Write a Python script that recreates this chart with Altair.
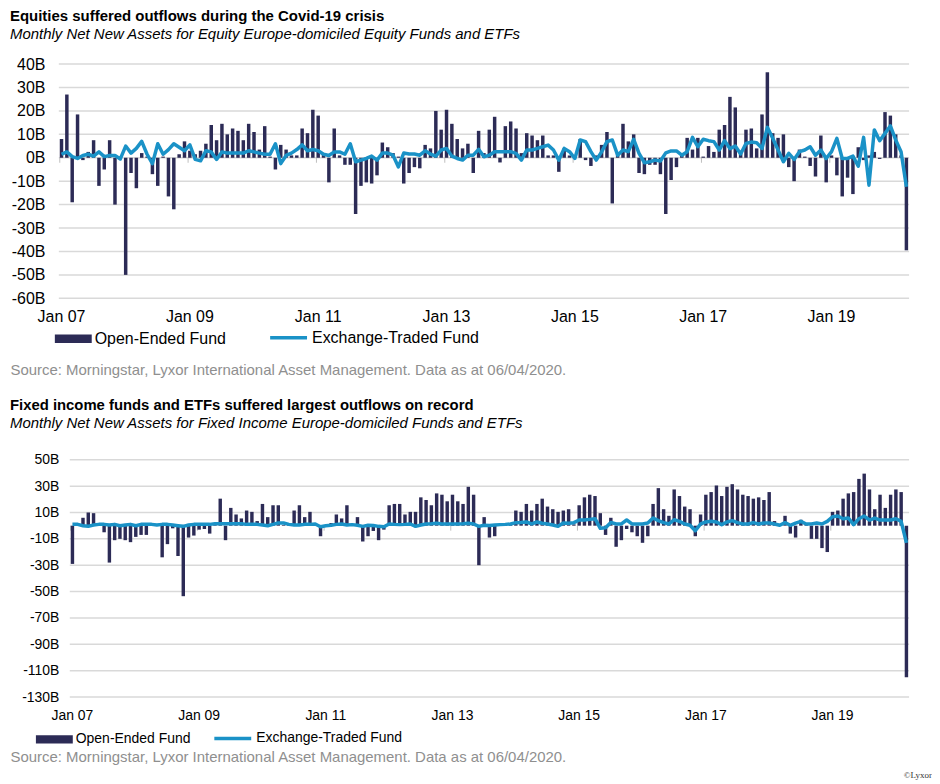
import altair as alt
import pandas as pd

months = pd.date_range("2007-01-01", "2020-03-01", freq="MS").strftime("%Y-%m").tolist()

eq_oef = [
    8, 27, -19, 18.5, -1, 2.5, 7.5, -12, -5, 7.5, -20, 0.5,
    -50, -6.5, -13, 2, 0.5, -7, -12, 0.5, -16.5, -22, 1.5, 7,
    3, 1.5, 3, 6, 14, 7.5, 14.5, 10, 12.5, 11.5, 7.5, 14.5,
    11, 3.5, 13.5, 0.5, -5, 5.5, 3.5, 1, 1, 12.5, 10.5, 20.5,
    18, 2, -10.5, 12.5, 1, -3, -3, -24, -12, -10.5, -11, -7.5,
    6.5, 4.5, 2, 0.5, -11, -6.5, -4, -4.5, 5.5, 4, 20, 12,
    20.5, 14.5, 8, 4, 6, -6.5, 11.5, 2, 12, 17.5, -2, 13.5,
    15.5, 12.5, 2, 10.5, 9.5, 7.5, 9.5, 1, 1, -6, 4, 1,
    1, 8, -1, -3.5, 1, 5.5, 11, -19.5, 2, 14.5, 7, 10,
    -6.5, -7, -3, -3, -7, -24, -9.5, -4, 1, 8.5, 3.5, 8.5,
    0.5, 5, 2.5, 12, 14, 26, 21.5, 3, 12, 12.5, 4, 18.5,
    36.5, 10.5, 8.5, 10, -4, -10, 3.5, 0.5, -3.5, -8, 9.5, -10.5,
    1, -7.5, -16.5, -8.5, -15.5, 4.5, -1, 1, 2.5, -0.5, 19.5, 18,
    10, 1, -39.5,
]
eq_etf = [
    1.5, 2.5, 0.5, -0.3, 1, 1.5, 0.7, 2.5, 0.5, 1, 1, -0.5,
    5, 2, 4, 7, 1.5, -2.5, 6, 1.5, 3.5, 6, 4.5, 3,
    5.5, -0.7, -1.3, 3, 2.5, -0.7, 2.5, 2, 2, 2, 2, 3,
    2.5, 2, 1.5, 1.5, 6, -2.5, 1, 2, 3.5, 5.5, 3, 3.5,
    3, 1.5, 1, 2.5, 2.5, 1.5, 6, -1.7, -1, -0.3, 0.7, -1,
    2, 2, 1.1, -3.9, 2, 1.6, 1.6, 1.1, 3, 1.6, 0.7, 3.3,
    4, 0.7, -0.3, -1, 1.1, 1.1, 3.6, 0.4, 1.1, 2.6, 2.6, 2.6,
    2.6, 1.9, -1, 3.3, 3.3, 4, 4.7, 5.4, 3.3, -1, 4, 2.6,
    -0.3, 7.6, 6.9, 2.6, -1, 2.5, 6.9, 7.6, 1.1, 3.3, 2.6, 7.9,
    1.9, -2.1, -1.7, -1, -1.4, 2.1, 2.9, 2.9, 1.1, 2.6, 8.7, 4.7,
    7.9, 7.3, 6.9, 3.3, 7.3, 3.9, 5, 1.6, 6.1, 6.7, 6.4, 4,
    13, 8.3, 3.3, -1.7, 1.9, -0.7, 2.6, 3.3, 4.7, 1.1, 3.3, -0.3,
    2.6, 8.3, -0.3, -0.3, 0.7, -3.6, 8.7, -11.7, 11.9, 7.3, 10.4, 13.6,
    7.6, 2.6, -12.4,
]
fi_oef = [
    -29, 0.5, 6, 10, 9.5, 0.5, -5, -28, -11, -10, -11, -12.5,
    -8.5, -7, -7, 0.5, 0.5, -24, -14, -2, -23, -53.5, -9, -7.5,
    -3, -2.5, -6, 0.5, 20.5, -11, 13.5, 8.5, 5.5, 11.5, 10.5, 3.5,
    16.5, 6.5, 15.5, 15.5, 0.5, 0.5, 11.5, 15.5, 6.5, 10.5, 0.5, -8,
    0.5, 2, 8.5, 5.5, 15.5, 1, 6.5, -12, -8, -4, -11, -3,
    15.5, 16.5, 16.5, 8.5, 10.5, 10.5, 21.5, 19.5, 15.5, 24.5, 23.5, 18.5,
    23.5, 18.5, 16.5, 29.5, 23.5, -30, 6.5, -9, -8, 0.5, 0.5, 1,
    11.5, 10.5, 16.5, 11.5, 16.5, 20.5, 14.5, 12.5, 10.5, 11.5, 12.5, 1,
    15.5, 21.5, 23.5, 22.5, 9.5, -7, 6, -16, -11, -2.5, -5, -8,
    -13, -8, 16.5, 28.5, 12.5, 7.5, 27.5, 22.5, 14.5, 12.5, -8, 8.5,
    23.5, 25.5, 30.5, 22.5, 29.5, 31.5, 27.5, 23.5, 22.5, 20.5, 21.5, 19.5,
    25.5, 3.5, 0.5, 7.5, -6, -9, 4.5, 0.5, -10, -10, -17, -20,
    10.5, 11.5, 20.5, 24.5, 25.5, 35.5, 39.5, 27.5, 12.5, 23.5, 13.5, 23.5,
    27.5, 25.5, -115,
]
fi_etf = [
    1, 1, 0, -0.5, 0.5, 1, 1, 0.5, 1, 0, 0.5, 1,
    0, 1, 1, 1, 0.5, 1, 1, 0.5, 0, -0.5, 0.5, 1,
    1, 1, 1, 1.5, 1.5, 1.5, 1.5, 1.5, 1.5, 1, 1, 1,
    0.5, 0, 1, 2, 2, 1, 0.5, 0.5, 1, 1, 1.3, -0.8,
    0, 0.3, 1, 1.3, 0.5, 0.8, 0.3, -0.5, 0.3, 0.2, -0.5, -0.8,
    1.3, 1, 0.8, 1, 1.3, -0.5, 0.5, 1.3, 1.5, 1.8, 1.3, 1.3,
    1.3, 1.3, 1.5, 1.8, 1.3, -0.5, 0.3, 0.2, 0.5, 0.8, 1, 1.3,
    2.3, 2.5, 2.8, 1.3, 2.8, 1.8, 1.3, 0.5, -0.5, 2, 1.8, 2.3,
    4.3, 4.3, 4.8, 5.3, -2, -1.5, 2.5, 1.3, 1.3, 4.3, 1.3, 1.3,
    1.3, 2, 5.8, 3.8, 2.3, 1.3, 4.5, 3.3, 1.3, 0.3, -3.8, 1.3,
    2.8, 3.3, 2.8, 0.8, 2.8, 3.8, 2.3, 1.3, 1.3, 2.3, 1.3, 2,
    2, 1.3, 0.3, 2.3, 0.3, 2, 3.3, 1.3, 1.3, 2, 1.3, 3.3,
    6.8, 7.3, 5.3, 5.8, 0.8, 5.3, 7.3, 4.3, 5.8, 4.3, 4.3, 4.3,
    5.3, 3.3, -13,
]

eq_ticks = [40, 30, 20, 10, 0, -10, -20, -30, -40, -50, -60]
fi_ticks = [50, 30, 10, -10, -30, -50, -70, -90, -110, -130]
x_ticks = [f"{y}-01" for y in range(2007, 2021, 2)]

SERIES = ["Open-Ended Fund", "Exchange-Traded Fund"]
BAR_COLOR = "#2c2b56"
LINE_COLOR = "#1a92c7"
GRID_COLOR = "#d9d9d9"
SOURCE = "Source: Morningstar, Lyxor International Asset Management. Data as at 06/04/2020."
FONT = "Liberation Sans"

W = 853          # common plot width (origin at x = 59 px on the page)
LEFT = 59


def panel(oef, etf, title, subtitle, ydom, yticks, x0, height,
          lab_size, ylab_pad, xlab_pad, leg_x1, leg_x2, leg_y1, leg_y2, src_y,
          title_offset, title_size, sub_size):
    df = pd.DataFrame({"month": months, "oef": oef, "etf": etf})
    xscale = alt.Scale(paddingInner=0.35, paddingOuter=0.175, range=[x0, W])
    xaxis = alt.Axis(
        values=x_ticks,
        labelExpr="'Jan ' + slice(datum.value, 2, 4)",
        labelAngle=0, labelFontSize=lab_size, labelPadding=xlab_pad,
        labelColor="black", labelOverlap=False, domain=False, ticks=False,
        grid=False,
        title=SOURCE, titleX=10 - LEFT, titleY=src_y, titleAlign="left",
        titleBaseline="middle", titleFontSize=15, titleFontWeight="normal",
        titleColor="#8f8f8f", titleFont=FONT,
    )
    x = alt.X("month:O", scale=xscale, axis=xaxis)
    yscale = alt.Scale(domain=ydom, nice=False, zero=False)
    yaxis = alt.Axis(
        values=yticks, labelExpr="datum.value + 'B'", grid=False,
        domain=False, ticks=False, labelOverlap=False, offset=-x0,
        labelFontSize=lab_size, labelPadding=ylab_pad, labelColor="black",
        title=None,
    )
    grid = alt.Chart(pd.DataFrame({"v": yticks})).mark_rule(
        color=GRID_COLOR, strokeWidth=1.5
    ).encode(
        y=alt.Y("v:Q", scale=yscale, axis=yaxis),
        x=alt.value(x0), x2=alt.value(W),
    )
    zero_ticks = alt.Chart(pd.DataFrame({"month": x_ticks, "z": 0})).mark_rule(
        color="#bfbfbf", strokeWidth=1, y2Offset=5
    ).encode(
        x=alt.X("month:O", scale=xscale, axis=xaxis, bandPosition=0),
        y=alt.Y("z:Q", scale=yscale, axis=yaxis),
        y2="z:Q",
    )
    bars = alt.Chart(df).transform_calculate(series=f"'{SERIES[0]}'").mark_bar().encode(
        x=x,
        y=alt.Y("oef:Q", scale=yscale, axis=yaxis),
        fill=alt.Fill(
            "series:N",
            scale=alt.Scale(domain=[SERIES[0]], range=[BAR_COLOR]),
            legend=alt.Legend(
                title=None, orient="none", legendX=leg_x1, legendY=leg_y1,
                symbolType="M-1,-0.23H1V0.23H-1Z", symbolSize=1369,
                symbolStrokeWidth=0, labelFontSize=lab_size, labelOffset=3,
                labelLimit=400, padding=0, labelColor="black", labelFont=FONT,
            ),
        ),
    )
    line = alt.Chart(df).transform_calculate(series2=f"'{SERIES[1]}'").mark_line(
        strokeWidth=3.5, strokeJoin="round"
    ).encode(
        x=x,
        y=alt.Y("etf:Q", scale=yscale, axis=yaxis),
        stroke=alt.Stroke(
            "series2:N",
            scale=alt.Scale(domain=[SERIES[1]], range=[LINE_COLOR]),
            legend=alt.Legend(
                title=None, orient="none", legendX=leg_x2, legendY=leg_y2,
                symbolType="stroke", symbolSize=1369, symbolStrokeWidth=3.5,
                labelFontSize=lab_size, labelOffset=3, labelLimit=400, padding=0,
                labelColor="black", labelFont=FONT,
            ),
        ),
    )
    return alt.layer(grid, zero_ticks, bars, line).properties(
        width=W, height=height,
        title=alt.TitleParams(
            text=title, subtitle=subtitle, anchor="start", frame="group",
            dx=10 - LEFT, fontSize=title_size, fontWeight="bold", color="black",
            font=FONT, subtitleFont=FONT, subtitleFontSize=sub_size,
            subtitleFontStyle="italic", subtitleColor="black",
            subtitlePadding=3, offset=title_offset,
        ),
    )


top = panel(
    eq_oef, eq_etf,
    "Equities suffered outflows during the Covid-19 crisis",
    "Monthly Net New Assets for Equity Europe-domiciled Equity Funds and ETFs",
    [-60, 40], eq_ticks, 0, 235,
    16, 14, 10, -4, 210, 257, 254, 71, 14, 15, 15,
)

bottom_main = panel(
    fi_oef, fi_etf,
    "Fixed income funds and ETFs suffered largest outflows on record",
    "Monthly Net New Assets for Fixed Income Europe-domiciled Funds and ETFs",
    [-130, 50], fi_ticks, 11, 238,
    14, 11, 12, -23, 154, 262, 259, 60, 22, 14.9, 15,
)

credit = alt.Chart(pd.DataFrame({"t": ["©Lyxor"]})).mark_text(
    align="right", baseline="middle", fontSize=9, font="Liberation Serif", color="#333"
).encode(x=alt.value(876), y=alt.value(316), text="t:N")

bottom = alt.layer(bottom_main, credit)

chart = (
    alt.vconcat(top, bottom, spacing=21)
    .resolve_scale(fill="independent", stroke="independent")
    .resolve_legend(fill="independent", stroke="independent")
    .properties(padding={"left": 2, "top": 0, "right": 0, "bottom": 0})
    .configure(font=FONT)
    .configure_view(stroke=None)
)

chart.save("out.html", embed_options={"renderer": "svg", "actions": False})
